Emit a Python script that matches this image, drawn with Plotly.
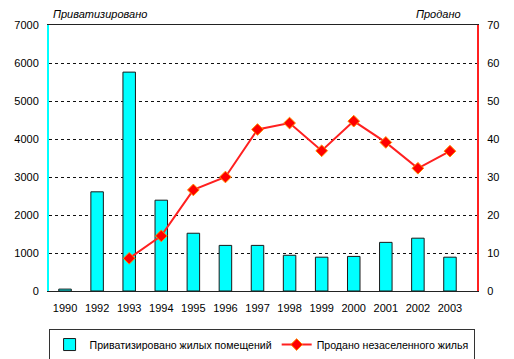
import plotly.graph_objects as go

years = ["1990", "1992", "1993", "1994", "1995", "1996", "1997", "1998", "1999", "2000", "2001", "2002", "2003"]
privatized = [50, 2610, 5760, 2390, 1520, 1200, 1200, 940, 890, 910, 1280, 1390, 890]
sold_years = ["1993", "1994", "1995", "1996", "1997", "1998", "1999", "2000", "2001", "2002", "2003"]
sold = [8.6, 14.5, 26.6, 30.0, 42.5, 44.2, 36.9, 44.7, 39.1, 32.3, 36.8]

bar_name = "Приватизировано жилых помещений"
line_name = "Продано незаселенного жилья"
left_title = "Приватизировано"
right_title = "Продано"

font = "Liberation Sans, Arial, sans-serif"

fig = go.Figure()
fig.add_trace(go.Bar(
    x=years, y=privatized, name=bar_name,
    marker=dict(color="#00FFFF", line=dict(color="#1a1a1a", width=1)),
    yaxis="y",
))
fig.add_trace(go.Scatter(
    x=sold_years, y=sold, name=line_name, mode="lines+markers",
    line=dict(color="#FF2020", width=2),
    marker=dict(symbol="diamond", size=9, color="#FF0000", line=dict(color="#FF8C00", width=1)),
    yaxis="y2",
))

fig.update_layout(
    width=514, height=359,
    margin=dict(l=49, r=37, t=25, b=68, autoexpand=False),
    paper_bgcolor="white", plot_bgcolor="white",
    font=dict(family=font, size=11, color="black"),
    bargap=0.61,
    showlegend=True,
    legend=dict(
        orientation="h", x=-0.001, xanchor="left", y=-0.143, yanchor="top",
        bordercolor="#333333", borderwidth=1, font=dict(size=10.6),
        itemwidth=30, tracegroupgap=0,
    ),
    xaxis=dict(
        type="category", categoryorder="array", categoryarray=years,
        showline=True, linecolor="#222222", linewidth=1, mirror=True,
        showgrid=False, ticks="", ticklabelstandoff=7, zeroline=False,
        automargin=False,
    ),
    yaxis=dict(
        range=[0, 7000], dtick=1000, showgrid=True, gridcolor="#111111",
        griddash="3px,3px", gridwidth=1, zeroline=False,
        showline=True, linecolor="#00FFFF", linewidth=2, ticks="",
        ticklabelstandoff=6, automargin=False,
    ),
    yaxis2=dict(
        range=[0, 70], dtick=10, overlaying="y", side="right",
        showgrid=False, zeroline=False, showline=True,
        linecolor="#FF2020", linewidth=2, ticks="", ticklabelstandoff=6,
        automargin=False,
    ),
    annotations=[
        dict(text="<i>" + left_title + "</i>", xref="paper", yref="paper",
             x=0.005, y=1, xanchor="left", yanchor="bottom", yshift=3,
             showarrow=False, font=dict(size=11)),
        dict(text="<i>" + right_title + "</i>", xref="paper", yref="paper",
             x=0.968, y=1, xanchor="right", yanchor="bottom", yshift=3,
             showarrow=False, font=dict(size=11)),
    ],
)

fig.write_html("out.html", config={"displayModeBar": False},
               post_script="document.body.style.margin='0';")
